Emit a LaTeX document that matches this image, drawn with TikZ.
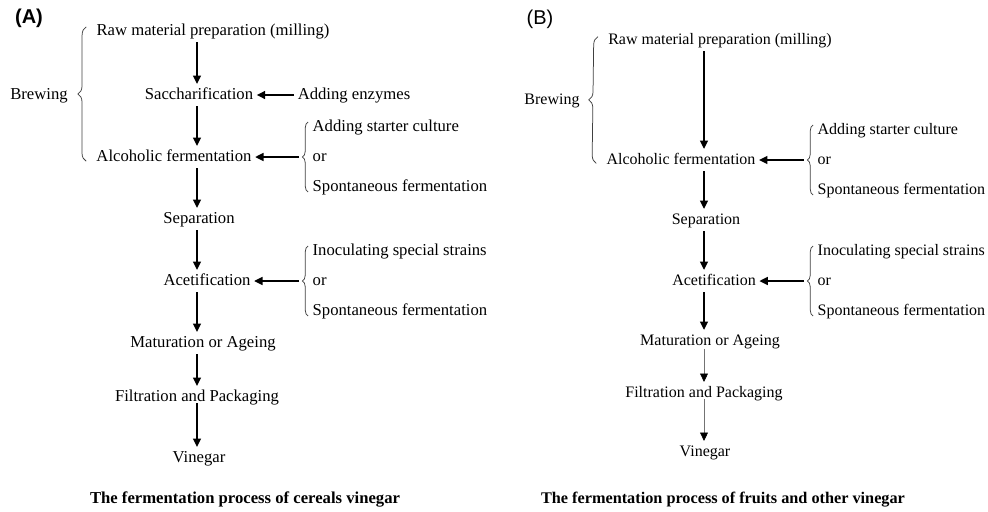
\documentclass[tikz,border=0pt]{standalone}
\usepackage{fontspec}
\setmainfont{Liberation Serif}
\newfontfamily\panelfont{Liberation Sans}
\usetikzlibrary{arrows.meta,decorations.pathreplacing}

\begin{document}
\begin{tikzpicture}[x=0.6pt,y=-0.6pt,
    >={Triangle[width=4.8pt,length=5pt]},
    stage/.style={inner sep=2pt,text height=7pt,text depth=2pt,font=\fontsize{10}{12}\selectfont},
    option/.style={stage,anchor=west},
    flow/.style={->,line width=0.9pt},
    faint/.style={-{Triangle[width=4.8pt,length=5pt,color=black]},line width=0.4pt,draw=black!55},
    curly/.style={decorate,decoration={brace,amplitude=#1},line width=0.45pt,draw=black!75},
    curly/.default=3.5pt,
    panel/.style={font=\panelfont\fontsize{12}{14}\selectfont},
    caption/.style={font=\bfseries\fontsize{10}{12}\selectfont}]
    \useasboundingbox (0,0) rectangle (988,511);

    % Panel (A): cereals vinegar.
    \node[panel] (labA) at (29,18) {\bfseries (A)};
    \node[stage] (rawA) at (213,31) {Raw material preparation (milling)};
    \node[stage] (sacA) at (199,95) {Saccharification};
    \node[stage] (enzA) at (354,95) {Adding enzymes};
    \node[stage] (alcA) at (174,157) {Alcoholic fermentation};
    \node[stage] (sepA) at (199,219) {Separation};
    \node[stage] (acetA) at (207,281) {Acetification};
    \node[stage] (matA) at (203,343) {Maturation or Ageing};
    \node[stage] (filtA) at (197,397) {Filtration and Packaging};
    \node[stage] (vinA) at (199,458) {Vinegar};
    \node[stage] (brewA) at (39,95) {Brewing};
    \node[caption] (captA) at (245,499) {The fermentation process of cereals vinegar};
    \node[option] (addA) at (309,127) {Adding starter culture};
    \node[option] (orA) at (309,157) {or};
    \node[option] (spoA) at (309,187) {Spontaneous fermentation};
    \node[option] (inoA) at (309,251) {Inoculating special strains};
    \node[option] (or2A) at (309,281) {or};
    \node[option] (spo2A) at (309,311) {Spontaneous fermentation};
    \coordinate (spineA) at (197,0);

    % Main flow, one straight line down.
    \draw[flow] (rawA.south -| spineA) -- (sacA.north -| spineA);
    \draw[flow] (sacA.south -| spineA) -- (alcA.north -| spineA);
    \draw[flow] (alcA.south -| spineA) -- (sepA.north -| spineA);
    \draw[flow] (sepA.south -| spineA) -- (acetA.north -| spineA);
    \draw[flow] (acetA.south -| spineA) -- (matA.north -| spineA);
    \draw[flow] (matA.south -| spineA) -- (filtA.north -| spineA);
    \draw[flow] ([yshift=3pt]filtA.south -| spineA) -- (vinA.north -| spineA);

    % Inputs from the right and the braces.
    \draw[curly=5pt] ([xshift=-4pt,yshift=-2.5pt]alcA.west) -- ([xshift=-4pt,yshift=2.5pt]rawA.west);
    \draw[curly] ([xshift=-0.5pt,yshift=-3pt]spoA.west) -- ([xshift=-0.5pt,yshift=3pt]addA.west);
    \draw[curly] ([xshift=-0.5pt,yshift=-3pt]spo2A.west) -- ([xshift=-0.5pt,yshift=3pt]inoA.west);
    \coordinate (tipA) at ([xshift=-6pt]orA.west);
    \coordinate (tip2A) at ([xshift=-6pt]or2A.west);
    \draw[flow] (enzA.west) -- (sacA.east);
    \draw[flow] (tipA) -- (alcA.east);
    \draw[flow] (tip2A) -- (acetA.east);

    % Panel (B): fruits and other vinegar, set a little smaller.
    \begin{scope}[stage/.append style={font=\fontsize{9.6}{11.5}\selectfont},
        caption/.append style={font=\bfseries\fontsize{9.75}{11.5}\selectfont}]
    \node[panel] (labB) at (540,19) {(B)};
    \node[stage] (rawB) at (720,40) {Raw material preparation (milling)};
    \node[stage] (brewB) at (552,100) {Brewing};
    \node[stage] (alcB) at (681,160) {Alcoholic fermentation};
    \node[stage] (sepB) at (706,220) {Separation};
    \node[stage] (acetB) at (714,281) {Acetification};
    \node[stage] (matB) at (710,341) {Maturation or Ageing};
    \node[stage] (filtB) at (704,393) {Filtration and Packaging};
    \node[stage] (vinB) at (705,452) {Vinegar};
    \node[caption] (captB) at (723,500) {The fermentation process of fruits and other vinegar};
    \node[option] (addB) at (814,130) {Adding starter culture};
    \node[option] (orB) at (814,160) {or};
    \node[option] (spoB) at (814,190) {Spontaneous fermentation};
    \node[option] (inoB) at (814,251) {Inoculating special strains};
    \node[option] (or2B) at (814,281) {or};
    \node[option] (spo2B) at (814,311) {Spontaneous fermentation};
    \coordinate (spineB) at (704,0);

    \draw[flow] (rawB.south -| spineB) -- (alcB.north -| spineB);
    \draw[flow] (alcB.south -| spineB) -- (sepB.north -| spineB);
    \draw[flow] (sepB.south -| spineB) -- (acetB.north -| spineB);
    \draw[flow] (acetB.south -| spineB) -- (matB.north -| spineB);
    \draw[faint] ([yshift=2pt]matB.south -| spineB) -- (filtB.north -| spineB);
    \draw[faint] ([yshift=3pt]filtB.south -| spineB) -- (vinB.north -| spineB);

    \draw[curly=5pt] ([xshift=-4pt,yshift=-2pt]alcB.west) -- ([xshift=-4pt,yshift=2pt]rawB.west);
    \draw[curly] ([xshift=-0.5pt,yshift=-3pt]spoB.west) -- ([xshift=-0.5pt,yshift=3pt]addB.west);
    \draw[curly] ([xshift=-0.5pt,yshift=-3pt]spo2B.west) -- ([xshift=-0.5pt,yshift=3pt]inoB.west);
    \coordinate (tipB) at ([xshift=-6pt]orB.west);
    \coordinate (tip2B) at ([xshift=-6pt]or2B.west);
    \draw[flow] (tipB) -- (alcB.east);
    \draw[flow] (tip2B) -- (acetB.east);
    \end{scope}
\end{tikzpicture}
\end{document}
